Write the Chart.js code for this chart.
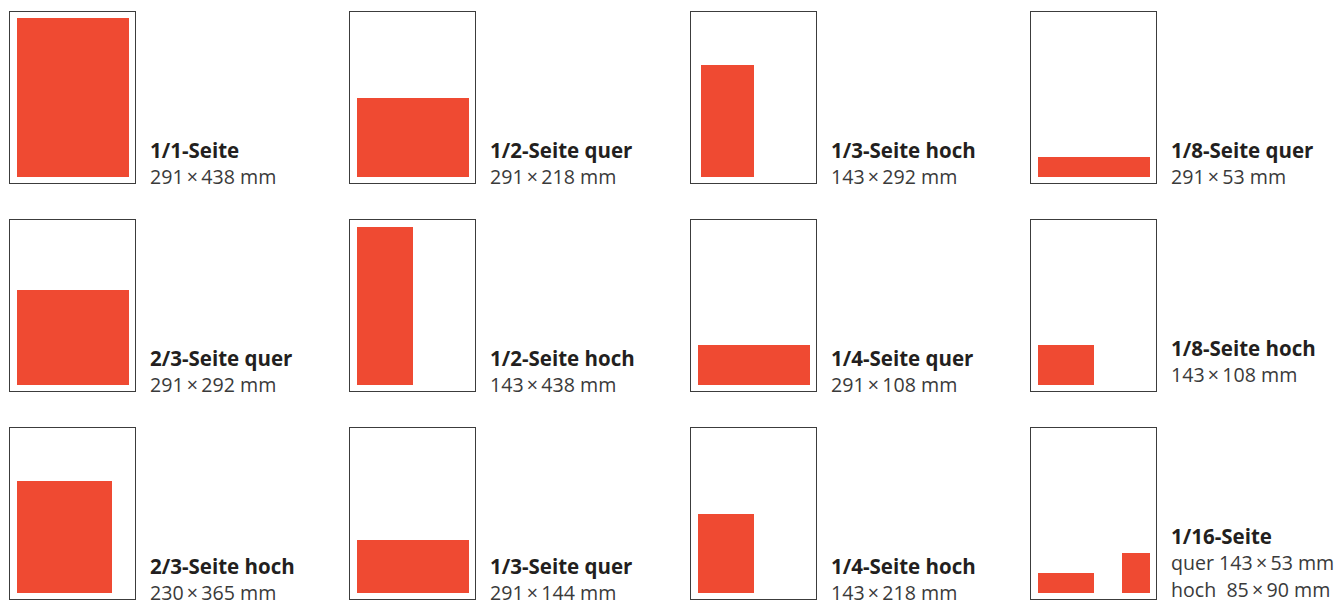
<!DOCTYPE html>
<html>
<head>
<meta charset="utf-8">
<script src="https://cdn.jsdelivr.net/npm/chart.js@4.4.1/dist/chart.umd.min.js"></script>
<style>
  body { margin: 0; background: #fff; width: 1334px; height: 602px; position: relative; overflow: hidden; }
  .page { position: absolute; width: 125px; height: 171px; border: 1px solid #3c3c3c; }
  .page canvas { position: absolute; left: 0; top: 0; }
  .label { position: absolute; left: 140px; bottom: -7px; font-family: "Open Sans", sans-serif; font-size: 20.5px; line-height: 26px; white-space: pre; }
  .label b { color: #231f20; font-weight: 700; }
  .label span { color: #3a3a3a; font-size: 19.6px; }
</style>
</head>
<body>
<script>
// ad formats, one page sketch each
let titles = ['1/1-Seite', '1/2-Seite quer', '1/3-Seite hoch', '1/8-Seite quer',
              '2/3-Seite quer', '1/2-Seite hoch', '1/4-Seite quer', '1/8-Seite hoch',
              '2/3-Seite hoch', '1/3-Seite quer', '1/4-Seite hoch', '1/16-Seite'];
let sizes = [['291\u2009×\u2009438 mm'], ['291\u2009×\u2009218 mm'], ['143\u2009×\u2009292 mm'], ['291\u2009×\u200953 mm'],
             ['291\u2009×\u2009292 mm'], ['143\u2009×\u2009438 mm'], ['291\u2009×\u2009108 mm'], ['143\u2009×\u2009108 mm'],
             ['230\u2009×\u2009365 mm'], ['291\u2009×\u2009144 mm'], ['143\u2009×\u2009218 mm'],
             ['quer 143\u2009×\u200953 mm', 'hoch  85\u2009×\u200990 mm']];

// red blocks in page units (page = 127 x 173, origin bottom left)
let blockPanel = [0, 1, 2, 3, 4, 5, 6, 7, 8, 9, 10, 11, 11];
let blockX0 = [8, 8, 11, 8, 8, 8, 8, 8, 8, 8, 8, 8, 92];
let blockX1 = [120, 120, 64, 120, 120, 64, 120, 64, 103, 120, 64, 64, 120];
let blockY0 = [7, 7, 7, 7, 7, 7, 7, 7, 7, 7, 7, 7, 7];
let blockY1 = [166, 86, 119, 27, 102, 165, 47, 47, 119, 60, 86, 27, 47];

let colLeft = [9, 349, 690, 1030];
let rowTop = [11, 219, 427];
let labelLift = [0, 0, 0, 0, 0, 0, 0, 10, 0, 0, 0, 3];

window.onload = function() {
    titles.forEach(function(title, i) {
        let page = document.createElement('div');
        page.className = 'page';
        page.style.left = colLeft[i % 4] + 'px';
        page.style.top = rowTop[Math.floor(i / 4)] + 'px';
        let canvas = document.createElement('canvas');
        canvas.width = 125;
        canvas.height = 171;
        page.appendChild(canvas);

        let label = document.createElement('div');
        label.className = 'label';
        label.style.bottom = (-7 + labelLift[i]) + 'px';
        let html = '<b>' + title + '</b>';
        sizes[i].forEach(function(s) { html += '<br><span>' + s + '</span>'; });
        label.innerHTML = html;
        page.appendChild(label);
        document.body.appendChild(page);

        let datasets = [];
        blockPanel.forEach(function(p, k) {
            if (p !== i) return;
            datasets.push({
                data: [{x: blockX0[k], y: blockY1[k]}, {x: blockX1[k], y: blockY1[k]}],
                fill: {value: blockY0[k]},
                backgroundColor: '#ef4a32',
                borderColor: 'rgba(0,0,0,0)',
                pointRadius: 0
            });
        });

        new Chart(canvas.getContext('2d'), {
            type: 'line',
            data: { datasets: datasets },
            options: {
                responsive: false,
                animation: false,
                events: [],
                layout: { padding: 0 },
                plugins: { legend: { display: false }, tooltip: { enabled: false } },
                scales: {
                    x: { type: 'linear', min: 1, max: 126, display: false },
                    y: { type: 'linear', min: 1, max: 172, display: false }
                }
            }
        });
    });
};
</script>
</body>
</html>
